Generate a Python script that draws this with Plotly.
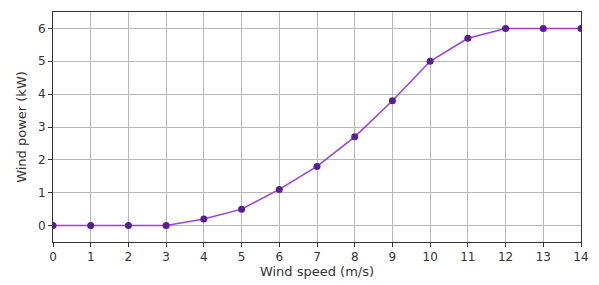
import plotly.graph_objects as go

wind_speed = [0, 1, 2, 3, 4, 5, 6, 7, 8, 9, 10, 11, 12, 13, 14]
wind_power = [0, 0, 0, 0, 0.2, 0.5, 1.1, 1.8, 2.7, 3.8, 5.0, 5.7, 6.0, 6.0, 6.0]
x_ticks = list(range(0, 15))
y_ticks = list(range(0, 7))

fig = go.Figure()
fig.add_trace(go.Scatter(
    x=wind_speed, y=wind_power, mode="lines+markers",
    line=dict(color="#9b3fd6", width=1.5),
    marker=dict(color="#5a1c96", size=7),
    showlegend=False,
))

axis_common = dict(
    showline=True, linecolor="#333333", linewidth=1, mirror=True,
    showgrid=True, gridcolor="#b8b8b8", gridwidth=1,
    ticks="outside", ticklen=4, tickcolor="#333333",
    zeroline=False, automargin=False,
    tickfont=dict(family="DejaVu Sans", size=12, color="#333333"),
)

fig.update_xaxes(range=[0, 14], tickvals=x_ticks,
                 title=dict(text="Wind speed (m/s)", font=dict(family="DejaVu Sans", size=13, color="#333333"), standoff=2),
                 **axis_common)
fig.update_yaxes(range=[-0.5, 6.5], tickvals=y_ticks,
                 title=dict(text="Wind power (kW)", font=dict(family="DejaVu Sans", size=13, color="#333333"), standoff=8),
                 **axis_common)

fig.update_layout(
    width=599, height=285,
    margin=dict(l=53, r=18, t=12, b=43),
    paper_bgcolor="white", plot_bgcolor="white",
)

fig.write_html("out.html", config={"displayModeBar": False},
               post_script="document.body.style.margin='0';")
